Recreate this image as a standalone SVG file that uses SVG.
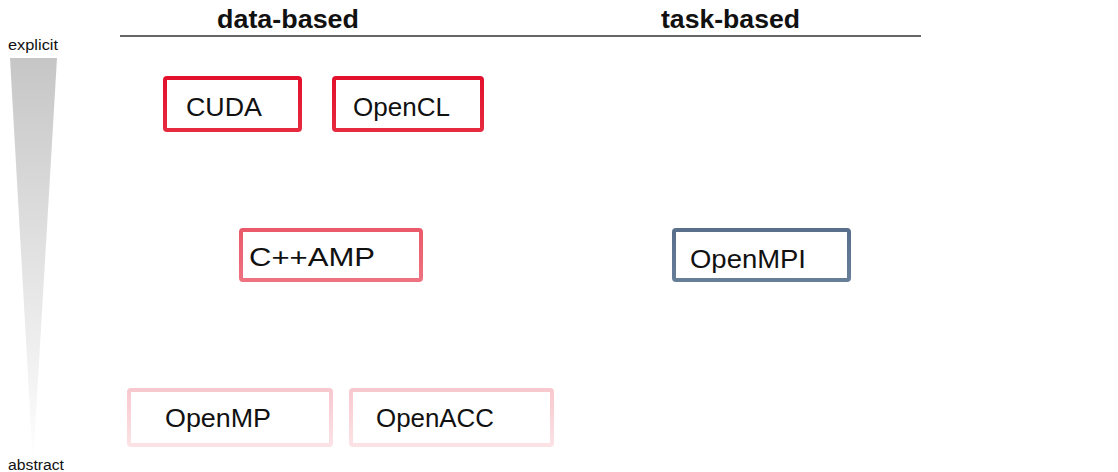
<svg xmlns="http://www.w3.org/2000/svg" width="1118" height="472" viewBox="0 0 1118 472">
<style>
.box{fill:#ffffff;stroke-width:4}
.lbl{font-family:"Liberation Sans","DejaVu Sans",sans-serif;font-size:26px;fill:#111}
.hdr{font-family:"Liberation Sans",sans-serif;font-size:26px;font-weight:bold;fill:#111}
.side{font-family:"Liberation Sans",sans-serif;font-size:14px;fill:#111}
</style>
<defs>
<linearGradient id="tri" x1="0" y1="0" x2="0" y2="1">
<stop offset="0" stop-color="#c6c6c6"/>
<stop offset="1" stop-color="#ffffff"/>
</linearGradient>
<linearGradient id="gRed" x1="0" y1="0" x2="0" y2="1">
<stop offset="0" stop-color="#e3102c"/>
<stop offset="1" stop-color="#e62a40"/>
</linearGradient>
<linearGradient id="gMid" x1="0" y1="0" x2="0" y2="1">
<stop offset="0" stop-color="#ea5a6a"/>
<stop offset="1" stop-color="#ee7280"/>
</linearGradient>
<linearGradient id="gLight" x1="0" y1="0" x2="0" y2="1">
<stop offset="0" stop-color="#f8c8cf"/>
<stop offset="1" stop-color="#fbe2e5"/>
</linearGradient>
<linearGradient id="gBlue" x1="0" y1="0" x2="0" y2="1">
<stop offset="0" stop-color="#58708c"/>
<stop offset="1" stop-color="#667e98"/>
</linearGradient>
</defs>
<g id="axis">
<polygon points="10,58 57,58 33,464" fill="url(#tri)"/>
<text class="side" x="8" y="50" textLength="50" lengthAdjust="spacingAndGlyphs">explicit</text>
<text class="side" x="8" y="470" textLength="56" lengthAdjust="spacingAndGlyphs">abstract</text>
</g>
<g id="header">
<line x1="120" y1="36" x2="921" y2="36" stroke="#333" stroke-width="1.3"/>
<text class="hdr" x="217" y="28" textLength="142" lengthAdjust="spacingAndGlyphs">data-based</text>
<text class="hdr" x="661" y="28" textLength="139" lengthAdjust="spacingAndGlyphs">task-based</text>
</g>
<g id="connectors"></g>
<g id="cuda">
<rect class="box" x="165" y="78" width="135" height="52" rx="2" stroke="url(#gRed)"/>
<text class="lbl" x="186" y="116" textLength="76" lengthAdjust="spacingAndGlyphs">CUDA</text>
</g>
<g id="opencl">
<rect class="box" x="334" y="78" width="148" height="52" rx="2" stroke="url(#gRed)"/>
<text class="lbl" x="353" y="116" textLength="97" lengthAdjust="spacingAndGlyphs">OpenCL</text>
</g>
<g id="cppamp">
<rect class="box" x="241" y="230" width="180" height="50" rx="2" stroke="url(#gMid)"/>
<text class="lbl" x="249" y="266" textLength="126" lengthAdjust="spacingAndGlyphs">C++AMP</text>
</g>
<g id="openmpi">
<rect class="box" x="674" y="230" width="175" height="50" rx="2" stroke="url(#gBlue)"/>
<text class="lbl" x="690" y="268" textLength="116" lengthAdjust="spacingAndGlyphs">OpenMPI</text>
</g>
<g id="openmp">
<rect class="box" x="129" y="390" width="202" height="55" rx="2" stroke="url(#gLight)"/>
<text class="lbl" x="165" y="427" textLength="106" lengthAdjust="spacingAndGlyphs">OpenMP</text>
</g>
<g id="openacc">
<rect class="box" x="351" y="390" width="201" height="55" rx="2" stroke="url(#gLight)"/>
<text class="lbl" x="376" y="427" textLength="118" lengthAdjust="spacingAndGlyphs">OpenACC</text>
</g>
</svg>
